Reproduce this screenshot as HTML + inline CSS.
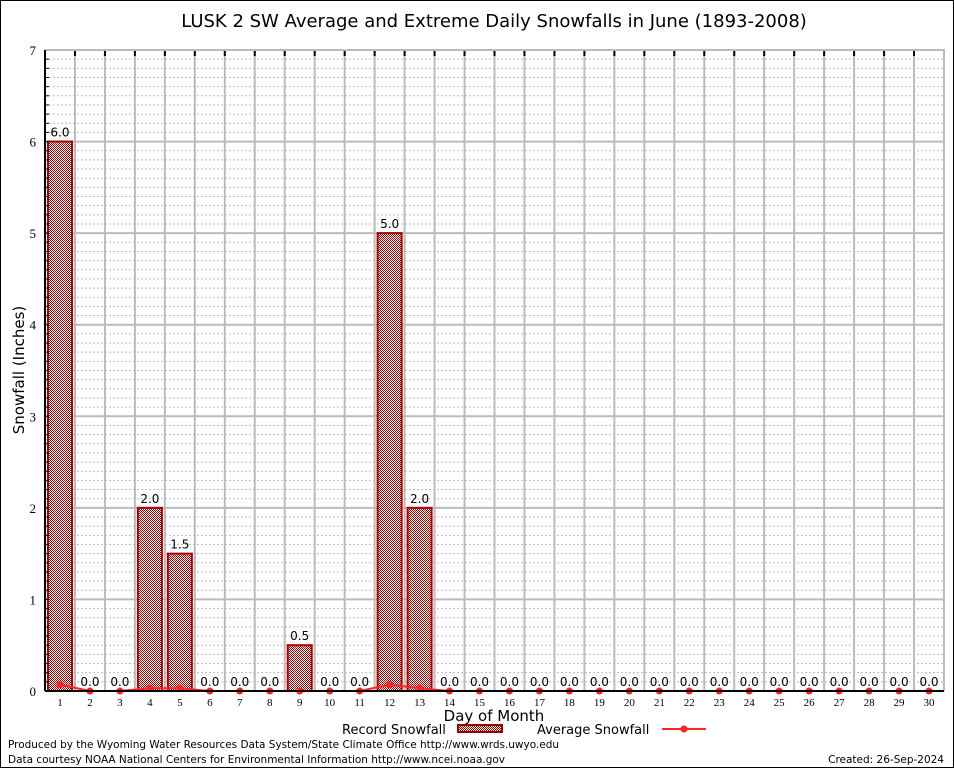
<!DOCTYPE html>
<html><head><meta charset="utf-8"><style>
html,body{margin:0;padding:0;background:#fff}
svg{display:block;font-family:"DejaVu Sans","Liberation Sans",sans-serif}
</style></head><body>
<svg id="c" width="954" height="768">
<defs><pattern id="hatch" width="2" height="2" patternUnits="userSpaceOnUse"><rect width="2" height="2" fill="#fff"/><rect width="1" height="1" fill="#b00"/><rect x="1" y="1" width="1" height="1" fill="#b00"/></pattern></defs>
<rect x="0.5" y="0.5" width="953" height="767" fill="#fff" stroke="#000"/>
<text x="494" y="27" font-size="18" text-anchor="middle">LUSK 2 SW Average and Extreme Daily Snowfalls in June (1893-2008)</text>
<g id="grid"></g><g id="bars"></g><g id="avg"></g><g id="axes"></g>
<text x="24" y="370" font-size="15" text-anchor="middle" transform="rotate(-90 24 370)">Snowfall (Inches)</text>
<text x="494" y="721" font-size="15" text-anchor="middle">Day of Month</text>
<g>
<text x="342" y="734" font-size="13">Record Snowfall</text>
<rect x="458" y="725" width="44" height="7" fill="url(#hatch)" stroke="#900" stroke-width="2"/>
<text x="537" y="734" font-size="13">Average Snowfall</text>
<line x1="662" y1="729" x2="706" y2="729" stroke="#f22" stroke-width="2"/>
<circle cx="684" cy="729" r="3.5" fill="#f22"/>
</g>
<text x="8" y="748" font-size="10.5" textLength="551">Produced by the Wyoming Water Resources Data System/State Climate Office http://www.wrds.uwyo.edu</text>
<text x="8" y="763" font-size="10.5" textLength="497">Data courtesy NOAA National Centers for Environmental Information http://www.ncei.noaa.gov</text>
<text x="944" y="763" font-size="10.5" text-anchor="end">Created:  26-Sep-2024</text>
</svg>
<script>
const days=[1,2,3,4,5,6,7,8,9,10,11,12,13,14,15,16,17,18,19,20,21,22,23,24,25,26,27,28,29,30];
const record=[6.0,0,0,2.0,1.5,0,0,0,0.5,0,0,5.0,2.0,0,0,0,0,0,0,0,0,0,0,0,0,0,0,0,0,0];
const average=[0.07,0,0,0.03,0.03,0,0,0,0,0,0,0.07,0.03,0,0,0,0,0,0,0,0,0,0,0,0,0,0,0,0,0];
const yTicks=[0,1,2,3,4,5,6,7];
const L=45,R=944,T=50,B=691,YMAX=7;
const slot=(R-L)/days.length;
const x=i=>L+slot*(i+0.5);
const y=v=>B-(v/YMAX)*(B-T);
const NS="http://www.w3.org/2000/svg";
function mk(p,tag,a){const e=document.createElementNS(NS,tag);for(const k in a)e.setAttribute(k,a[k]);document.getElementById(p).appendChild(e);return e;}
for(let m=1;m<YMAX*10;m++){if(m%10===0)continue;const e=mk('grid','line',{x1:L,x2:R,y1:y(m/10),y2:y(m/10),stroke:'#bbb','stroke-dasharray':'2,2'});

}
yTicks.forEach(t=>{const e=mk('grid','line',{x1:L,x2:R,y1:y(t),y2:y(t),stroke:'#bbb','stroke-width':2});


const tx=mk('axes','text',{x:L-9,y:y(t)+5,'font-size':13,'text-anchor':'end','font-family':'Liberation Serif,serif'});tx.textContent=t;


for(let m=0;m<10&&t<YMAX;m++){mk('axes','line',{x1:L,x2:L+4,y1:y(t+m/10),y2:y(t+m/10),stroke:'#000'});}
});
for(let i=1;i<days.length;i++){const e=mk('grid','line',{x1:L+slot*i,x2:L+slot*i,y1:T,y2:B,stroke:'#bbb','stroke-width':2});


mk('axes','line',{x1:L+slot*i,x2:L+slot*i,y1:T,y2:T+6,stroke:'#000','stroke-width':2});}
days.forEach((d,i)=>{const v=record[i];
if(v>0){const r=mk('bars','rect',{x:x(i)-12,y:y(v),width:24,height:B-y(v),fill:'url(#hatch)',stroke:'#a00','stroke-width':2});

}
const t=mk('bars','text',{x:x(i),y:y(v)-5,'font-size':12,'text-anchor':'middle'});t.textContent=v.toFixed(1);


const xl=mk('axes','text',{x:x(i),y:B+15,'font-size':11,'text-anchor':'middle','font-family':'Liberation Serif,serif'});xl.textContent=d;

});
const pts=average.map((v,i)=>x(i)+','+y(v)).join(' ');
const pl=mk('avg','polyline',{points:pts,fill:'none',stroke:'#f22','stroke-width':2});


average.forEach((v,i)=>{const c=mk('avg','circle',{cx:x(i),cy:y(v),r:3.5,fill:'#f22'});

});
const ax=mk('axes','path',{d:`M${L},${T}H${R}V${B}`,fill:'none',stroke:'#bbb','stroke-width':2});


mk('axes','line',{x1:L,x2:L,y1:T,y2:B,stroke:'#000','stroke-width':2});
mk('axes','line',{x1:L,x2:R,y1:B,y2:B,stroke:'#000','stroke-width':2});
</script>
</body></html>
